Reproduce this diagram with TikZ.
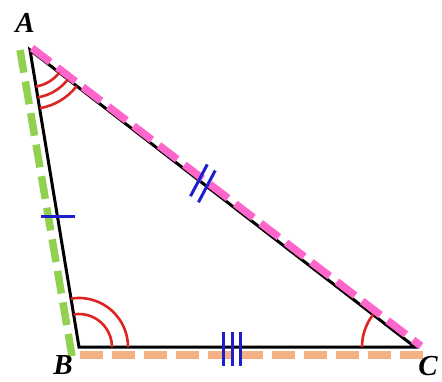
\documentclass[tikz,border=0pt]{standalone}
\usepackage{fontspec}
\setmainfont{Liberation Serif}
\usetikzlibrary{calc}
\definecolor{arcred}{RGB}{222,35,35}
\definecolor{tickblue}{RGB}{30,30,205}
\definecolor{pinkd}{HTML}{FF66CC}
\definecolor{greend}{HTML}{92D050}
\definecolor{oranged}{HTML}{F4B183}
\tikzset{
  side/.style={black, line width=3pt, line join=miter},
  hilite/.style={line width=7.5pt, dash pattern=on 23pt off 9pt},
  anglearc/.style={arcred, line width=2.6pt},
  tickmark/.style={tickblue, line width=3pt},
  lbl/.style={font=\bfseries\itshape\fontsize{29}{29}\selectfont, inner sep=0pt}
}
\begin{document}
\begin{tikzpicture}[x=1pt,y=-1pt]
\useasboundingbox (0,0) rectangle (442,381);
\coordinate (A) at (30,50);
\coordinate (B) at (79,347);
\coordinate (C) at (415,347);
% triangle
\draw[side] (A) -- (B) -- (C) -- cycle;
% highlighted sides
\coordinate (g1) at (20,50);
\coordinate (g2) at (72,356);
\coordinate (p1) at (32,48);
\coordinate (p2) at (421,346);
\coordinate (o1) at (80,355);
\coordinate (o2) at (423,355);
\draw[hilite, greend] (g1) -- (g2);
\draw[hilite, oranged] (o1) -- (o2);
\draw[hilite, pinkd] (p1) -- (p2);
% angle arcs
\foreach \r in {37,48,59}
  \draw[anglearc] ($(A)+(37.6:\r)$) arc[start angle=37.6, end angle=80.6, radius=\r];
\foreach \r in {33,49}
  \draw[anglearc] ($(B)+(-99.4:\r)$) arc[start angle=-99.4, end angle=0, radius=\r];
\draw[anglearc] ($(C)+(180:53)$) arc[start angle=180, end angle=217.6, radius=53];
% tick marks
\coordinate (mAB) at ($(A)!0.56!(B)$);
\draw[tickmark] ($(mAB)+(-16,0)$) -- ($(mAB)+(18,0)$);
\coordinate (mAC) at ($(A)!0.449!(C)$);
\foreach \s in {-5,5}
  \draw[tickmark] ($(mAC)+(0.792*\s,0.611*\s)+(8.4,-15.9)$) -- ($(mAC)+(0.792*\s,0.611*\s)+(-8.4,15.9)$);
\foreach \x in {223,232,240}
  \draw[tickmark] (\x,332) -- (\x,366);
% labels
\node[lbl] (LA) at (25,23) {A};
\node[lbl] (LB) at (63,365) {B};
\node[lbl] (LC) at (428,366) {C};
\end{tikzpicture}
\end{document}
